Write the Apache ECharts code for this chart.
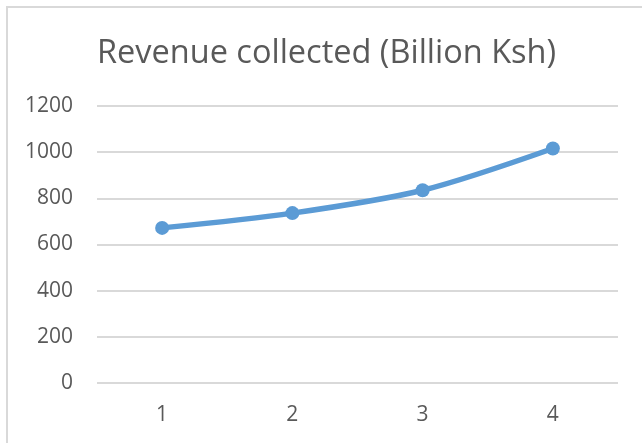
<!DOCTYPE html>
<html>
<head>
<meta charset="utf-8">
<script src="https://cdn.jsdelivr.net/npm/echarts@6/dist/echarts.min.js"></script>
<style>
  html, body { margin: 0; padding: 0; background: #fff; }
  #chart { width: 642px; height: 443px; }
</style>
</head>
<body>
<div id="chart"></div>
<script>
// data
const categories = ['1', '2', '3', '4'];
const revenue = [672, 736, 835, 1016];
const yTicks = { min: 0, max: 1200, interval: 200 };

const FONT = '"Open Sans", sans-serif';
const GREY = '#595959';

let chart = echarts.init(document.getElementById('chart'));

chart.setOption({
  backgroundColor: '#fff',
  animation: false,
  // chart area frame, only top and left edges show in the picture
  graphic: [{
    type: 'rect',
    shape: { x: 7, y: 7, width: 800, height: 600 },
    style: { fill: 'none', stroke: '#d9d9d9', lineWidth: 2 },
    silent: true
  }],
  title: {
    text: 'Revenue collected (Billion Ksh)',
    left: 92,
    top: 32,
    textStyle: { fontFamily: FONT, fontSize: 32.5, fontWeight: 'normal', color: GREY }
  },
  grid: { left: 97, right: 24, top: 106, bottom: 60 },
  xAxis: {
    type: 'category',
    data: categories,
    boundaryGap: true,
    axisLine: { show: false },
    axisTick: { show: false },
    axisLabel: { margin: 22, fontFamily: FONT, fontSize: 21, color: GREY }
  },
  yAxis: {
    type: 'value',
    min: yTicks.min,
    max: yTicks.max,
    interval: yTicks.interval,
    axisLine: { show: false },
    axisTick: { show: false },
    axisLabel: {
      margin: 24, fontFamily: FONT, fontSize: 21, color: GREY,
      formatter: (v) => String(v)
    },
    splitLine: { lineStyle: { color: '#d9d9d9', width: 2 } }
  },
  series: [{
    type: 'line',
    data: revenue,
    smooth: 0.3,
    symbol: 'circle',
    symbolSize: 14,
    lineStyle: { color: '#5b9bd5', width: 5.5 },
    itemStyle: { color: '#5b9bd5' }
  }]
});
</script>
</body>
</html>
